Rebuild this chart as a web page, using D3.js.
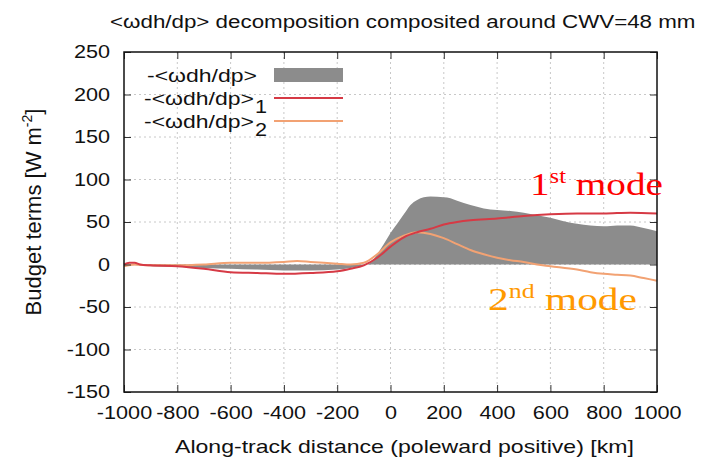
<!DOCTYPE html>
<html><head><meta charset="utf-8">
<script src="https://cdn.jsdelivr.net/npm/d3@7"></script>
<style>body{margin:0;background:#fff;} svg{display:block;font-family:"Liberation Sans",Arial,sans-serif;}</style>
</head><body>
<svg id="c" width="705" height="463"></svg>
<script>
// Data (distance in km, budget terms in W m^-2)
const xTicks = [-1000,-800,-600,-400,-200,0,200,400,600,800,1000];
const yTicks = [-150,-100,-50,0,50,100,150,200,250];
const totalX = [-1000,-950,-900,-800,-700,-600,-500,-400,-300,-200,-150,-100,-75,-50,-25,0,25,50,75,100,125,150,200,225,250,300,350,400,450,500,550,600,650,700,750,800,850,900,950,1000];
const totalY = [0,-1,-2,-3,-4,-5,-6,-7,-7,-6,-4,-1,2,12,24,37,48,59,70,76,79,80,79,78,75,70,66,64,63,61,58,55,51,48,46,45,46,46,43,39];
const mode1X = [-1000,-980,-960,-940,-900,-800,-700,-600,-500,-400,-300,-200,-150,-100,-50,0,50,100,150,200,250,300,400,500,600,700,800,900,1000];
const mode1Y = [0,2,2,0,-1,-2,-5,-9,-10,-11,-10,-8,-5,-1,8,21,32,38,42,47,50,52,54,57,59,60,60,61,60];
const mode2X = [-1000,-960,-900,-800,-700,-600,-500,-400,-350,-300,-200,-150,-100,-50,0,50,100,150,200,250,300,350,400,450,500,550,600,700,750,800,850,900,950,1000];
const mode2Y = [-2,0,-1,-1,0,2,2,3,4,3,1,0,2,12,26,34,38,36,31,24,17,12,8,5,3,0,-2,-6,-9,-11,-12,-13,-16,-19];
const legendLabels = ["-<ωdh/dp>","-<ωdh/dp>","-<ωdh/dp>"];
const legendSubs = ["","1","2"];

const svg = d3.select("#c");
const L=124, R=657, T=52, B=392;
const x = d3.scaleLinear().domain([-1000,1000]).range([L,R]);
const y = d3.scaleLinear().domain([-150,250]).range([B,T]);
const SX = 1.17; // horizontal stretch of the reference's text

function stretch(sel, factor){
  sel.each(function(){
    const bb = this.getBBox();
    const anchor = this.getAttribute("text-anchor") || d3.select(this).style("text-anchor");
    let x0 = bb.x;
    if(anchor==="middle") x0 = bb.x+bb.width/2; else if(anchor==="end") x0 = bb.x+bb.width;
    const prev = this.getAttribute("transform")||"";
    this.setAttribute("transform", prev+` translate(${x0},0) scale(${factor},1) translate(${-x0},0)`);
  });
}
function stretchTo(sel, width){
  const bb = sel.node().getBBox();
  stretch(sel, width/bb.width);
}

// grid
const g = svg.append("g");
g.selectAll(".gx").data(xTicks.slice(1,-1)).join("line")
 .attr("x1",d=>x(d)).attr("x2",d=>x(d)).attr("y1",T).attr("y2",B)
 .attr("stroke","#c8c8c8").attr("stroke-width",1).attr("stroke-dasharray","2,3");
g.selectAll(".gy").data(yTicks.slice(1,-1)).join("line")
 .attr("y1",d=>y(d)).attr("y2",d=>y(d)).attr("x1",L).attr("x2",R)
 .attr("stroke","#c8c8c8").attr("stroke-width",1).attr("stroke-dasharray","2,3");

// total area
const tot = totalX.map((v,i)=>[v,totalY[i]]);
svg.append("path").datum(tot)
 .attr("d", d3.area().x(d=>x(d[0])).y0(y(0)).y1(d=>y(d[1])).curve(d3.curveMonotoneX))
 .attr("fill","#8c8c8c");

const m2 = mode2X.map((v,i)=>[v,mode2Y[i]]);
const m1 = mode1X.map((v,i)=>[v,mode1Y[i]]);
const line = d3.line().x(d=>x(d[0])).y(d=>y(d[1])).curve(d3.curveMonotoneX);
svg.append("path").datum(m2).attr("d",line).attr("fill","none").attr("stroke","#f2a273").attr("stroke-width",2);
svg.append("path").datum(m1).attr("d",line).attr("fill","none").attr("stroke","#d63a45").attr("stroke-width",2);

// axes (gnuplot style inward ticks, mirrored)
const fs = 18.5;
const fmt = d => String(d);
const ax = svg.append("g").attr("transform",`translate(0,${B})`)
 .call(d3.axisBottom(x).tickValues(xTicks).tickSize(-7).tickPadding(14).tickFormat(fmt));
const axT = svg.append("g").attr("transform",`translate(0,${T})`)
 .call(d3.axisTop(x).tickValues(xTicks).tickSize(-7).tickFormat(""));
const ay = svg.append("g").attr("transform",`translate(${L},0)`)
 .call(d3.axisLeft(y).tickValues(yTicks).tickSize(-7).tickPadding(14).tickFormat(fmt));
const ayR = svg.append("g").attr("transform",`translate(${R},0)`)
 .call(d3.axisRight(y).tickValues(yTicks).tickSize(-7).tickFormat(""));
[ax,axT,ay,ayR].forEach(a=>{a.select(".domain").remove(); a.selectAll("line").attr("stroke","#333");});
[ax,ay].forEach(a=>a.selectAll("text").attr("font-size",fs).attr("fill","#111").attr("font-family","Liberation Sans, Arial, sans-serif"));
stretch(ax.selectAll("text"), SX);
stretch(ay.selectAll("text"), SX);
svg.append("rect").attr("x",L).attr("y",T).attr("width",R-L).attr("height",B-T)
 .attr("fill","none").attr("stroke","#111").attr("stroke-width",1.5);

// titles
const title = svg.append("text").attr("x",110).attr("y",28).attr("font-size",18.5).attr("fill","#111")
 .text("<ωdh/dp> decomposition composited around CWV=48 mm");
stretchTo(title, 586);
const xl = svg.append("text").attr("x",175).attr("y",453).attr("font-size",19).attr("fill","#111")
 .text("Along-track distance (poleward positive) [km]");
stretchTo(xl, 459);
const yl = svg.append("text").attr("transform","translate(41,212) rotate(-90)").attr("text-anchor","middle").attr("font-size",22).attr("fill","#111");
yl.append("tspan").text("Budget terms [W m");
yl.append("tspan").attr("dy",-9).attr("font-size",14).text("-2");
yl.append("tspan").attr("dy",9).text("]");

// legend
const legY = [75,98,121];
legendLabels.forEach((t,i)=>{
  const tx = svg.append("text").attr("x", i===0?257:254).attr("y",legY[i]+7).attr("text-anchor","end").attr("font-size",18.5).attr("fill","#111").text(t);
  stretchTo(tx, 110);
  if(legendSubs[i]){
    const s = svg.append("text").attr("x",255).attr("y",legY[i]+15).attr("font-size",18.5).attr("fill","#111").text(legendSubs[i]);
    stretch(s, SX);
  }
});
svg.append("rect").attr("x",274).attr("y",legY[0]-7).attr("width",69).attr("height",14).attr("fill","#8c8c8c");
svg.append("line").attr("x1",274).attr("x2",343).attr("y1",legY[1]).attr("y2",legY[1]).attr("stroke","#d63a45").attr("stroke-width",2);
svg.append("line").attr("x1",274).attr("x2",343).attr("y1",legY[2]).attr("y2",legY[2]).attr("stroke","#f2a273").attr("stroke-width",2);

// annotations
const a1 = svg.append("text").attr("x",530).attr("y",195).attr("font-family","Liberation Serif, Times New Roman, serif").attr("font-size",32).attr("fill","#ff0000");
a1.append("tspan").text("1");
a1.append("tspan").attr("dy",-12).attr("font-size",20).text("st");
a1.append("tspan").attr("dy",12).text(" mode");
stretchTo(a1, 133);
const a2 = svg.append("text").attr("x",488).attr("y",310).attr("font-family","Liberation Serif, Times New Roman, serif").attr("font-size",32).attr("fill","#ff9900");
a2.append("tspan").text("2");
a2.append("tspan").attr("dy",-12).attr("font-size",20).text("nd");
a2.append("tspan").attr("dy",12).text(" mode");
stretchTo(a2, 149);
</script>
</body></html>
